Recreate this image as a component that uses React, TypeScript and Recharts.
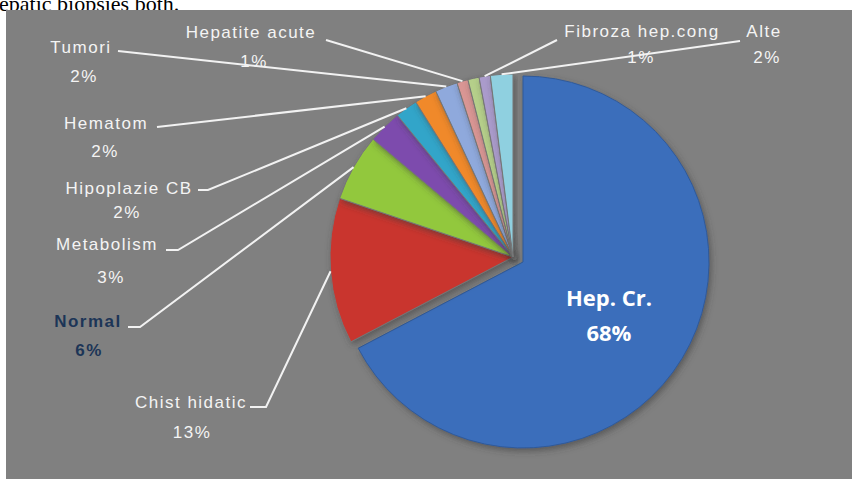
import { PieChart, Pie, Cell } from 'recharts'

// slices clockwise from 12 o'clock
const categories = [
  'Hep. Cr.',
  'Chist hidatic',
  'Normal',
  'Metabolism',
  'Hipoplazie CB',
  'Hematom',
  'Tumori',
  'Hepatite acute',
  '',
  'Fibroza hep.cong',
  'Alte',
]
const shares = [68, 13, 6, 3, 2, 2, 2, 1, 1, 1, 2]
const sliceColors = [
  '#3b6ebb',
  '#c9342f',
  '#92c83e',
  '#7d4cad',
  '#33a5c9',
  '#f0892a',
  '#8fa9dc',
  '#d99694',
  '#b5cf8a',
  '#aa9bcb',
  '#8fd0e0',
]

const data = categories.map((name, i) => ({ name, value: shares[i] }))

// hand placed label boxes (like the dragged labels of the original)
const labelSpots: Record<string, { nx: number; ny: number; px: number; py: number; from: number[][] }> = {
  Tumori: { nx: 81, ny: 47, px: 84, py: 76, from: [[118, 51]] },
  'Hepatite acute': { nx: 251, ny: 32, px: 254, py: 61, from: [[326, 40]] },
  'Fibroza hep.cong': { nx: 642, ny: 31, px: 641, py: 57, from: [[557, 40]] },
  Alte: { nx: 764, ny: 31, px: 767, py: 57, from: [[740, 41]] },
  Hematom: { nx: 106, ny: 123, px: 105, py: 151, from: [[157, 127]] },
  'Hipoplazie CB': { nx: 129, ny: 188, px: 127, py: 212, from: [[198, 190], [208, 190]] },
  Metabolism: { nx: 107, ny: 244, px: 111, py: 277, from: [[166, 250], [178, 250]] },
  Normal: { nx: 88, ny: 321, px: 89, py: 350, from: [[128, 327], [140, 327]] },
  'Chist hidatic': { nx: 191, ny: 402, px: 192, py: 432, from: [[250, 407], [266, 407]] },
}

const RAD = Math.PI / 180
const polar = (cx: number, cy: number, r: number, a: number) => [
  cx + r * Math.cos(-a * RAD),
  cy + r * Math.sin(-a * RAD),
]

const textStyle = {
  fontFamily: '"Liberation Sans", Arial, sans-serif',
  fontSize: 17,
  letterSpacing: 1.5,
}

function OuterLabel(props: any) {
  const { cx, cy, midAngle, outerRadius, index } = props
  const name = categories[index]
  const spot = labelSpots[name]
  if (index === 0 || !spot) return null
  const [ex, ey] = polar(cx, cy, outerRadius, midAngle)
  const pts = [...spot.from, [ex, ey]].map((p) => p.join(',')).join(' ')
  const dark = name === 'Normal'
  const fill = dark ? '#1c3557' : '#f4f4f4'
  return (
    <g>
      <polyline points={pts} fill="none" stroke="#f2f2f2" strokeWidth={2} />
      <text x={spot.nx} y={spot.ny} textAnchor="middle" dominantBaseline="central" fill={fill}
        fontWeight={dark ? 700 : 400} style={textStyle}>
        {name}
      </text>
      <text x={spot.px} y={spot.py} textAnchor="middle" dominantBaseline="central" fill={fill}
        fontWeight={dark ? 700 : 400} style={textStyle}>
        {shares[index]}%
      </text>
    </g>
  )
}

function InnerLabel(props: any) {
  const { cx, cy, midAngle, outerRadius, index } = props
  if (index !== 0) return null
  const [x, y] = polar(cx, cy, outerRadius * 0.54, midAngle)
  const st = { fontFamily: '"Open Sans", sans-serif', fontSize: 22, fontWeight: 700 }
  return (
    <g>
      <text x={x} y={y - 17} textAnchor="middle" dominantBaseline="central" fill="#ffffff" style={st}>
        {categories[0]}
      </text>
      <text x={x} y={y + 18} textAnchor="middle" dominantBaseline="central" fill="#ffffff" style={st}>
        {shares[0]}%
      </text>
    </g>
  )
}

export default function App() {
  return (
    <div style={{ position: 'absolute', left: 0, top: 0, width: 852, height: 483, background: '#fff', overflow: 'hidden' }}>
      <div
        style={{
          position: 'absolute',
          left: -1,
          top: -7,
          fontFamily: '"Liberation Serif", "Times New Roman", serif',
          fontSize: 22,
          color: '#000',
          whiteSpace: 'nowrap',
          lineHeight: '22px',
        }}
      >
        epatic biopsies both.
      </div>
      <div style={{ position: 'absolute', left: 6, top: 10, width: 846, height: 469, background: '#808080' }} />
      <div style={{ position: 'absolute', left: 0, top: 0 }}>
        <PieChart width={852} height={483} margin={{ top: 0, right: 0, bottom: 0, left: 0 }}>
          <defs>
            <filter id="sliceShadow" x="-20%" y="-20%" width="140%" height="140%">
              <feDropShadow dx="2" dy="3" stdDeviation="3" floodColor="#3a3a3a" floodOpacity="0.55" />
            </filter>
          </defs>
          <Pie
            data={data}
            dataKey="value"
            nameKey="name"
            cx={523}
            cy={262}
            outerRadius={186}
            startAngle={90}
            endAngle={-270}
            label={InnerLabel}
            labelLine={false}
            isAnimationActive={false}
          >
            {data.map((d, i) => (
              <Cell
                key={'b' + i}
                fill={i === 0 ? sliceColors[0] : 'none'}
                stroke={i === 0 ? '#2f5a9a' : 'none'}
                filter={i === 0 ? 'url(#sliceShadow)' : undefined}
              />
            ))}
          </Pie>
          <Pie
            data={data}
            dataKey="value"
            nameKey="name"
            cx={513}
            cy={257}
            outerRadius={183}
            startAngle={90}
            endAngle={-270}
            label={OuterLabel}
            labelLine={false}
            isAnimationActive={false}
          >
            {data.map((d, i) => (
              <Cell
                key={'s' + i}
                fill={i === 0 ? 'none' : sliceColors[i]}
                stroke={i === 0 ? 'none' : '#767676'}
                filter={i === 0 ? undefined : 'url(#sliceShadow)'}
              />
            ))}
          </Pie>
        </PieChart>
      </div>
    </div>
  )
}
